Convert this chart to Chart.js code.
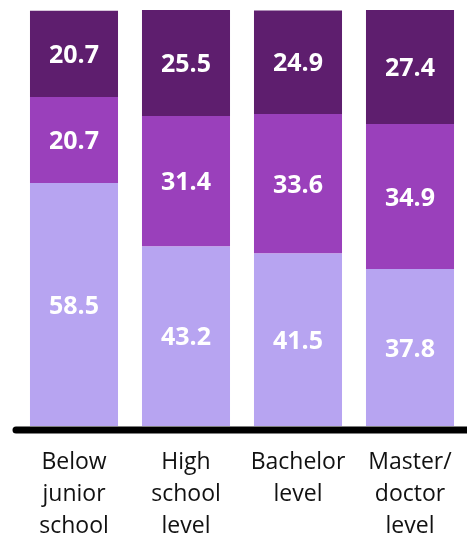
<!DOCTYPE html>
<html>
<head>
<meta charset="utf-8">
<script src="https://cdn.jsdelivr.net/npm/chart.js@4.4.1/dist/chart.umd.min.js"></script>
<style>
  body { margin: 0; background: #fff; }
  canvas { display: block; }
</style>
</head>
<body>
<canvas id="eduChart" width="467" height="535"></canvas>
<script>
// Education levels (multi-line tick labels)
const levels = [
    ['Below', 'junior', 'school'],
    ['High', 'school', 'level'],
    ['Bachelor', 'level'],
    ['Master/', 'doctor', 'level']
];

// Shares per level, bottom to top of each stack
const lowShare = [58.5, 43.2, 41.5, 37.8];
const midShare = [20.7, 31.4, 33.6, 34.9];
const highShare = [20.7, 25.5, 24.9, 27.4];

const colors = ['#b7a4f1', '#9a40bb', '#5e1e6e'];

// Writes each segment's value in the middle of its bar piece
const segmentLabels = {
    id: 'segmentLabels',
    afterDatasetsDraw(chart) {
        const ctx = chart.ctx;
        ctx.save();
        ctx.fillStyle = '#ffffff';
        ctx.font = 'bold 25px "Open Sans"';
        ctx.textAlign = 'center';
        ctx.textBaseline = 'middle';
        chart.data.datasets.forEach((ds, i) => {
            const meta = chart.getDatasetMeta(i);
            meta.data.forEach((bar, j) => {
                const p = bar.getProps(['x', 'y', 'base'], true);
                ctx.fillText(ds.data[j].toFixed(1), p.x, (p.y + p.base) / 2 + 2);
            });
        });
        ctx.restore();
    }
};

// Thick baseline with a rounded left end
const baseline = {
    id: 'baseline',
    afterDatasetsDraw(chart) {
        const ctx = chart.ctx;
        const area = chart.chartArea;
        ctx.save();
        ctx.strokeStyle = '#000';
        ctx.lineWidth = 7;
        ctx.lineCap = 'round';
        ctx.beginPath();
        ctx.moveTo(area.left - 2, area.bottom + 4);
        ctx.lineTo(chart.width + 5, area.bottom + 4);
        ctx.stroke();
        ctx.restore();
    }
};

Chart.defaults.font.family = '"Open Sans", sans-serif';

new Chart(document.getElementById('eduChart'), {
    type: 'bar',
    data: {
        labels: levels,
        datasets: [
            { data: lowShare, backgroundColor: colors[0] },
            { data: midShare, backgroundColor: colors[1] },
            { data: highShare, backgroundColor: colors[2] }
        ]
    },
    options: {
        responsive: false,
        animation: false,
        layout: { padding: { top: 10, left: 18, right: 1, bottom: -19 } },
        datasets: {
            bar: { categoryPercentage: 1, barPercentage: 0.786 }
        },
        scales: {
            x: {
                stacked: true,
                grid: { display: false },
                border: { display: false },
                ticks: {
                    color: '#111',
                    padding: 12,
                    font: { size: 23, lineHeight: 1.39 },
                    maxRotation: 0
                }
            },
            y: {
                stacked: true,
                display: false,
                min: 0,
                max: 100.1
            }
        },
        plugins: {
            legend: { display: false },
            tooltip: { enabled: false }
        }
    },
    plugins: [segmentLabels, baseline]
});
</script>
</body>
</html>
